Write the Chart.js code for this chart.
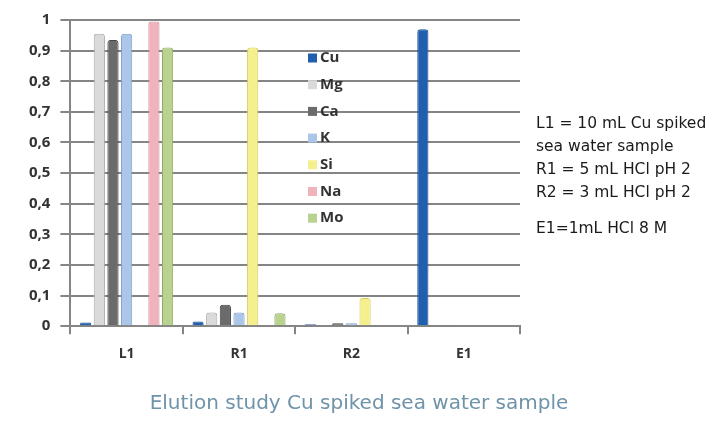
<!DOCTYPE html>
<html>
<head>
<meta charset="utf-8">
<script src="https://cdn.jsdelivr.net/npm/chart.js@4"></script>
<style>
  body { margin: 0; background: #fff; }
  #wrap { position: relative; width: 724px; height: 425px; }
  #chart { position: absolute; left: 0; top: 0; }
  #notes {
    position: absolute; left: 536px; top: 112px;
    font-family: "DejaVu Sans", sans-serif; font-size: 15.5px; line-height: 23px;
    color: #1a1a1a; white-space: nowrap;
  }
  #title {
    position: absolute; left: 0; width: 724px; top: 390px; text-align: center;
    font-family: "DejaVu Sans", sans-serif; font-size: 20px; color: #6f93a8;
    padding-right: 6px; box-sizing: border-box;
  }
</style>
</head>
<body>
<div id="wrap">
  <canvas id="chart" width="724" height="425"></canvas>
  <div id="notes">
    L1 = 10 mL Cu spiked<br>
    sea water sample<br>
    R1 = 5 mL HCl pH 2<br>
    R2 = 3 mL HCl pH 2<br>
    <div style="height:13px"></div>
    E1=1mL HCl 8 M
  </div>
  <div id="title">Elution study Cu spiked sea water sample</div>
</div>
<script>
const steps = ["L1", "R1", "R2", "E1"]
const elements = ["Cu", "Mg", "Ca", "K", "Si", "Na", "Mo"]

const cu = [0.012, 0.015, 0.006, 0.97]
const mg = [0.955, 0.045, 0.004, 0.003]
const ca = [0.935, 0.07, 0.01, 0.004]
const k  = [0.955, 0.045, 0.01, 0.003]
const si = [0.004, 0.91, 0.092, 0.003]
const na = [0.995, 0.004, 0.003, 0.003]
const mo = [0.91, 0.042, 0.003, 0.003]

const fills = ["#1f5fad", "#dadada", "#6b6b6b", "#abc6e8", "#f6ef8e", "#f0b3bb", "#bad28f"]
const edges = ["#184f92", "#a9a9a9", "#454545", "#7d9fc9", "#d6cd62", "#c98e96", "#8fab61"]

const series = [cu, mg, ca, k, si, na, mo]

const insideLegend = {
    id: 'insideLegend',
    afterDatasetsDraw(chart) {
        const ctx = chart.ctx
        ctx.save()
        ctx.font = 'bold 15px "Open Sans", sans-serif'
        ctx.textBaseline = 'middle'
        chart.data.datasets.forEach((ds, i) => {
            const y = 58 + i * 26.7
            ctx.fillStyle = ds.backgroundColor
            ctx.fillRect(308, y - 4.5, 9, 9)
            ctx.fillStyle = '#333'
            ctx.fillText(ds.label, 320, y)
        })
        ctx.restore()
    }
}

new Chart(document.getElementById("chart").getContext("2d"), {
    type: 'bar',
    data: {
        labels: steps,
        datasets: elements.map((name, i) => ({
            label: name,
            data: series[i],
            backgroundColor: fills[i],
            borderColor: edges[i],
            borderWidth: 1,
            borderRadius: { topLeft: 3, topRight: 3 },
            borderSkipped: 'bottom',
            categoryPercentage: 0.85,
            barPercentage: 0.82
        }))
    },
    plugins: [insideLegend],
    options: {
        responsive: false,
        animation: false,
        layout: { padding: { left: 19, right: 204, top: 20, bottom: 52 } },
        plugins: {
            legend: { display: false },
            tooltip: { enabled: false }
        },
        scales: {
            x: {
                grid: { display: true, drawOnChartArea: false, offset: true, tickLength: 8, color: '#858585', lineWidth: 2 },
                border: { color: '#858585', width: 2 },
                ticks: { color: '#333', padding: 11, font: { family: '"Open Sans", sans-serif', size: 14, weight: 'bold' } }
            },
            y: {
                min: 0,
                max: 1,
                ticks: {
                    stepSize: 0.1,
                    padding: 10,
                    color: '#333',
                    font: { family: '"Open Sans", sans-serif', size: 15, weight: 'bold' },
                    callback: v => String(Math.round(v * 10) / 10).replace('.', ',')
                },
                grid: { color: '#858585', lineWidth: 2, tickLength: 10 },
                border: { color: '#858585', width: 2 }
            }
        }
    }
})
</script>
</body>
</html>
